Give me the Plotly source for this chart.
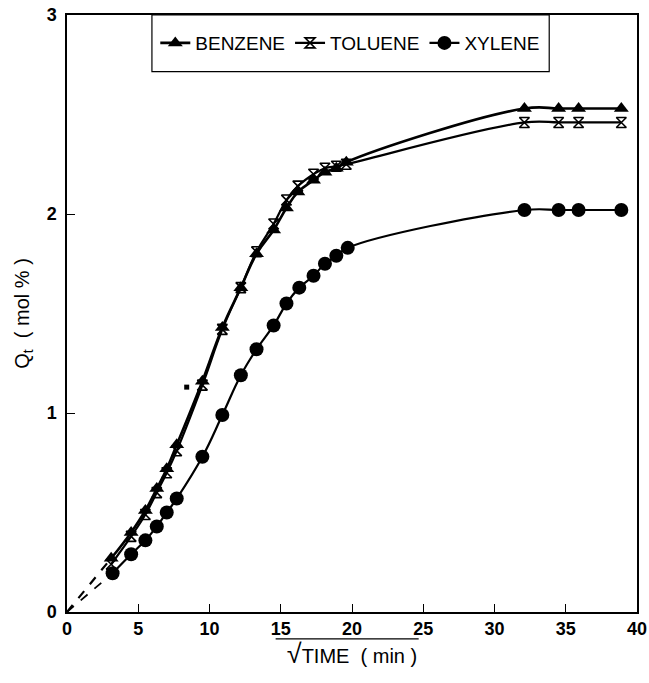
import plotly.graph_objects as go

# sqrt(time) values (min^0.5)
x_bt = [3.1, 4.5, 5.5, 6.3, 7.0, 7.7, 9.5, 10.9, 12.2, 13.3, 14.5, 15.4, 16.2, 17.3, 18.1, 18.9, 19.6, 32.1, 34.5, 35.9, 38.9]
benzene = [0.27, 0.40, 0.51, 0.62, 0.72, 0.84, 1.16, 1.43, 1.63, 1.80, 1.92, 2.03, 2.11, 2.17, 2.21, 2.23, 2.26, 2.53, 2.53, 2.53, 2.53]
toluene = [0.24, 0.38, 0.49, 0.60, 0.70, 0.81, 1.14, 1.42, 1.63, 1.81, 1.95, 2.07, 2.14, 2.20, 2.23, 2.24, 2.25, 2.46, 2.46, 2.46, 2.46]
x_x = [3.2, 4.5, 5.5, 6.3, 7.0, 7.7, 9.5, 10.9, 12.2, 13.3, 14.5, 15.4, 16.3, 17.3, 18.1, 18.9, 19.7, 32.1, 34.5, 35.9, 38.9]
xylene = [0.195, 0.29, 0.36, 0.43, 0.50, 0.57, 0.78, 0.99, 1.19, 1.32, 1.44, 1.55, 1.63, 1.69, 1.75, 1.79, 1.83, 2.02, 2.02, 2.02, 2.02]
stray_x = [8.4]
stray_y = [1.13]

x_ticks = [0, 5, 10, 15, 20, 25, 30, 35, 40]
y_ticks = [0, 1, 2, 3]

FONT = "Liberation Sans"
fig = go.Figure()

# dashed extrapolation to origin
fig.add_trace(go.Scatter(x=[0, x_bt[0]], y=[0, benzene[0]], mode="lines",
                         line=dict(color="black", width=2.2, dash="dash"), showlegend=False, hoverinfo="skip"))
fig.add_trace(go.Scatter(x=[0, x_x[0]], y=[0, xylene[0]], mode="lines",
                         line=dict(color="black", width=1.8, dash="dash"), showlegend=False, hoverinfo="skip"))

fig.add_trace(go.Scatter(x=x_bt, y=toluene, mode="lines+markers", name="TOLUENE",
                         line=dict(color="black", width=2.2, shape="spline", smoothing=1.2),
                         marker=dict(symbol="hourglass-open", size=10, color="black", line=dict(width=1.6, color="black"))))
fig.add_trace(go.Scatter(x=x_bt, y=benzene, mode="lines+markers", name="BENZENE",
                         line=dict(color="black", width=2.6, shape="spline", smoothing=1.2),
                         marker=dict(symbol="triangle-up", size=13, color="black")))
fig.add_trace(go.Scatter(x=x_x, y=xylene, mode="lines+markers", name="XYLENE",
                         line=dict(color="black", width=2.2, shape="spline", smoothing=1.2),
                         marker=dict(symbol="circle", size=14, color="black")))
fig.add_trace(go.Scatter(x=stray_x, y=stray_y, mode="markers", showlegend=False, hoverinfo="skip",
                         marker=dict(symbol="square", size=5, color="black")))

axis_common = dict(showline=True, linecolor="black", linewidth=1.5, mirror=True,
                   ticks="inside", ticklen=8, tickwidth=1, tickcolor="black",
                   showgrid=False, zeroline=False, automargin=False,
                   tickfont=dict(family=FONT, size=18, color="black", weight="bold"))

fig.update_layout(
    width=649, height=683,
    margin=dict(l=67, r=12, t=15, b=71),
    plot_bgcolor="white", paper_bgcolor="white",
    xaxis=dict(range=[0, 40], tickvals=x_ticks, **axis_common,
               title=dict(text="<span style='font-size:27px'>\u221a</span>TIME  ( min )",
                          font=dict(family=FONT, size=20, color="black"), standoff=8)),
    yaxis=dict(range=[0, 3], tickvals=y_ticks, ticklabelstandoff=5, **axis_common,
               title=dict(text="Q<sub>t</sub>  ( mol % )", font=dict(family=FONT, size=20, color="black"), standoff=12)),
    legend=dict(orientation="h", x=0.497, xanchor="center", y=0.953, yanchor="middle",
                traceorder="normal", bgcolor="rgba(0,0,0,0)",
                font=dict(family=FONT, size=19, color="black"), itemwidth=30),
    shapes=[
        dict(type="rect", xref="paper", yref="paper", x0=0.149, x1=0.846, y0=0.905, y1=1.0,
             line=dict(color="black", width=1.2)),
        dict(type="line", xref="paper", yref="paper", x0=0.366, x1=0.617, y0=-0.045, y1=-0.045,
             line=dict(color="black", width=1.3)),
    ],
)
# legend order: benzene, toluene, xylene
fig.data[3].legendrank = 1
fig.data[2].legendrank = 2
fig.data[4].legendrank = 3

fig.write_html("out.html")
